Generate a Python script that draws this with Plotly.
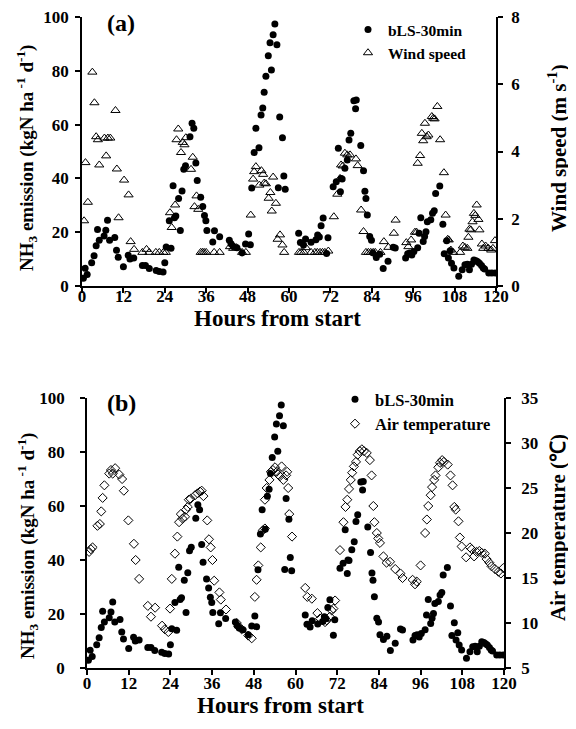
import plotly.graph_objects as go

# ---------------- data ----------------
emis_h = [0.4, 0.9, 1.5, 2.8, 3.5, 4.1, 4.5, 5.0, 6.4, 6.9, 7.4, 8.0, 9.5, 10.0, 10.5, 12.0, 13.4, 13.9, 15.0,
          17.5, 18.4, 19.5, 21.5, 22.4, 23.5, 24.0, 24.4, 25.3, 25.8, 26.4, 26.8, 27.2, 28.0, 28.5, 29.0, 29.5,
          30.0, 31.3, 31.9, 32.4, 33.0, 33.4, 34.4, 35.0, 35.5, 35.9, 36.2, 37.9, 38.4, 39.9, 42.7, 43.2, 43.8,
          44.9, 46.4, 47.4, 48.3, 48.8, 49.2, 49.9, 50.4, 51.3, 51.9, 52.4, 52.8, 53.3, 54.0, 54.5, 54.9, 55.4,
          55.9, 56.5, 56.9, 57.3, 58.1, 58.5, 58.9, 62.8, 63.3, 64.2, 64.8, 66.4, 67.8, 68.3, 68.8, 69.3, 69.9,
          70.9, 71.3, 72.8, 73.7, 74.3, 74.9, 75.1, 75.4, 76.2, 76.9, 77.4, 77.9, 78.8, 79.3, 79.5, 80.8, 81.6,
          82.0, 82.3, 82.7, 83.4, 83.9, 84.3, 85.3, 86.3, 87.3, 88.7, 90.2, 90.8, 93.8, 94.4, 95.0, 95.6, 96.2,
          97.3, 97.7, 98.2, 98.9, 99.3, 99.7, 100.1, 101.1, 101.6, 102.1, 102.5, 103.7, 104.6, 105.0, 105.7,
          106.2, 106.7, 107.1, 107.8, 109.2, 110.2, 111.0, 111.7, 112.3, 112.9, 113.6, 114.2, 114.7, 115.2,
          115.8, 116.3, 116.7, 117.9, 118.8, 119.8]
emis_v = [2.9, 6.6, 4.3, 8.6, 11.2, 15.0, 21.0, 17.0, 18.6, 20.7, 24.4, 17.0, 18.0, 13.3, 10.7, 7.2, 11.4, 10.0, 10.4,
          7.6, 7.6, 6.5, 5.8, 5.4, 5.2, 8.6, 14.5, 24.3, 14.0, 37.3, 25.4, 26.0, 32.5, 20.6, 35.3, 43.4,
          44.7, 55.5, 60.5, 58.6, 45.7, 39.2, 33.0, 29.6, 26.2, 24.3, 20.6, 16.4, 20.5, 18.3, 17.0, 15.7, 14.8,
          14.2, 12.3, 15.6, 19.3, 15.3, 36.4, 49.6, 58.6, 51.4, 63.6, 66.2, 72.0, 78.0, 85.6, 90.4, 80.3, 93.4,
          97.4, 89.7, 36.5, 62.8, 55.1, 40.9, 36.0, 19.6, 16.2, 15.2, 17.5, 16.3, 17.2, 19.0, 18.2, 22.4, 25.3,
          12.1, 17.9, 36.9, 38.8, 51.2, 35.0, 40.0, 39.8, 43.8, 46.8, 54.3, 56.8, 68.9, 65.9, 69.1, 52.2, 42.8,
          35.2, 32.5, 26.4, 18.4, 17.0, 12.3, 10.6, 11.8, 6.5, 9.2, 14.4, 14.1, 10.4, 12.0, 12.3, 11.5, 12.8,
          14.2, 19.6, 25.4, 16.5, 18.4, 20.2, 23.9, 24.6, 27.0, 28.0, 34.4, 37.2, 23.0, 12.0, 16.8,
          10.4, 13.1, 8.5, 6.7, 3.6, 6.0, 7.9, 8.1, 6.0, 8.1, 9.7, 9.4, 9.0, 8.5,
          7.6, 6.7, 6.3, 4.8, 4.8, 4.8]

wind_h = [0.6, 1.0, 1.7, 3.0, 3.6, 4.1, 4.6, 5.0, 6.5, 7.0, 7.5, 8.2, 9.7, 10.1, 10.6, 12.2, 13.5, 14.1, 15.1,
          17.5, 18.7, 19.5, 21.4, 22.4, 23.6, 24.3, 25.5, 26.0, 27.0, 27.4, 27.9, 28.7, 29.2, 29.7, 30.1, 31.6,
          32.1, 32.6, 33.2, 33.7, 34.4, 34.9, 35.4, 36.0, 38.3, 39.9, 42.9, 43.8, 44.8, 46.4, 47.5, 48.9, 49.6,
          49.9, 50.4, 51.4, 52.0, 52.5, 52.8, 53.3, 54.1, 54.6, 55.0, 55.4, 56.2, 56.7, 57.4, 58.1, 58.6, 62.9,
          63.5, 64.3, 64.9, 66.4, 67.5, 68.2, 69.0, 69.7, 70.4, 71.4, 73.0, 74.0, 74.8, 75.1, 75.6, 76.2, 76.9,
          77.7, 79.4, 79.9, 80.9, 81.6, 82.3, 83.0, 83.7, 84.4, 85.0, 86.5, 87.5, 88.8, 90.4, 90.9, 94.0, 94.6,
          95.4, 96.5, 97.0, 97.3, 98.0, 98.5, 98.9, 99.4, 99.9, 100.4, 101.4, 101.8, 102.2, 103.0, 103.8, 104.9,
          105.4, 106.0, 106.3, 106.9, 107.6, 109.6, 110.4, 111.0, 111.7, 112.0, 112.3, 112.7, 113.2, 113.6,
          114.0, 114.4, 114.9, 115.2, 115.9, 116.3, 117.0, 117.8, 118.6, 119.1, 119.7]
wind_v = [1.94, 3.67, 2.49, 6.36, 5.45, 4.44, 4.35, 3.60, 4.40, 3.87, 4.40, 4.40, 5.22, 3.48, 2.03, 3.15, 2.71, 1.32, 1.09,
          1.00, 1.09, 1.00, 1.00, 1.00, 1.00, 1.00, 2.18, 1.74, 2.41, 4.35, 4.67, 3.97, 4.27, 4.20, 4.41, 3.47,
          3.83, 2.36, 2.68, 2.28, 1.00, 1.00, 1.00, 1.00, 1.00, 1.00, 1.17, 1.12, 1.14, 1.00, 1.00, 2.11, 3.18,
          3.40, 3.55, 3.00, 3.43, 3.32, 3.06, 3.04, 2.61, 2.78, 2.23, 3.24, 2.46, 1.39, 1.52, 1.22, 1.00, 1.00,
          1.00, 1.00, 1.14, 1.00, 1.00, 1.00, 1.00, 1.00, 1.00, 1.04, 2.06, 2.73, 3.20, 3.60, 3.57, 3.95, 3.90,
          3.90, 3.78, 3.58, 2.26, 1.62, 1.00, 1.00, 1.00, 1.00, 1.00, 1.00, 1.32, 1.15, 1.57, 1.96, 1.29, 1.17,
          1.37, 1.60, 1.60, 3.65, 3.88, 4.54, 4.32, 4.84, 4.44, 4.49, 5.04, 4.99, 4.97, 5.34, 4.35, 3.37,
          2.11, 1.39, 1.37, 1.07, 1.00, 1.00, 1.19, 1.15, 1.12, 1.45, 1.69, 1.67, 1.91, 2.16,
          2.10, 2.41, 1.98, 1.67, 1.25, 1.12, 1.19, 1.12, 1.07, 1.12, 1.35]

temp_h = [0.6, 1.1, 1.6, 3.0, 3.7, 4.1, 4.5, 5.0, 6.4, 6.9, 7.4, 8.1, 9.3, 10.1, 10.6, 11.9, 13.5, 14.0, 15.0,
          17.5, 18.4, 19.6, 21.6, 22.4, 23.4, 23.9, 24.4, 25.3, 26.0, 26.5, 27.0, 27.5, 28.2, 28.5, 29.0, 29.3,
          29.8, 31.1, 31.8, 32.5, 33.0, 33.5, 34.6, 35.1, 35.6, 36.1, 36.6, 38.1, 38.5, 40.0, 43.1, 43.6, 44.5,
          46.4, 47.4, 48.3, 48.8, 49.3, 50.0, 50.6, 51.2, 51.2, 51.7, 52.5, 52.9, 53.5, 54.1, 54.6, 55.0, 55.5,
          56.0, 56.5, 57.3, 57.6, 57.9, 58.2, 59.0, 62.8, 63.4, 64.7, 66.3, 67.1, 68.5, 69.0, 69.9, 70.4, 70.9,
          71.4, 72.8, 73.8, 74.4, 74.9, 75.4, 75.9, 76.3, 76.8, 77.4, 77.9, 78.5, 79.1, 79.7, 80.5, 81.4, 81.9,
          82.4, 82.7, 83.4, 83.8, 84.3, 85.3, 86.2, 87.2, 88.7, 90.2, 90.8, 93.7, 94.4, 94.9, 96.0, 97.3, 97.8,
          98.2, 98.9, 99.3, 99.9, 100.3, 101.1, 101.6, 102.2, 102.7, 103.8, 104.6, 105.2, 105.7, 106.1, 106.9,
          107.3, 107.8, 109.1, 110.2, 110.7, 111.4, 112.1, 112.9, 113.6, 114.5, 115.0, 115.8, 116.4, 117.4,
          118.4, 119.1, 119.8]
temp_v = [17.9, 18.2, 18.4, 20.8, 21.0, 22.4, 23.9, 25.3, 26.6, 27.0, 26.6, 27.2, 26.5, 26.0, 24.7, 21.4, 18.8, 17.0, 14.9,
          11.9, 10.7, 11.7, 9.7, 9.3, 9.0, 11.6, 14.9, 17.7, 19.6, 21.2, 22.1, 21.6, 21.8, 22.6, 22.9, 23.7,
          23.8, 24.2, 24.4, 24.6, 24.7, 24.1, 21.4, 19.3, 18.4, 17.0, 14.7, 13.4, 12.6, 11.5, 10.0, 9.6, 9.3,
          8.6, 8.3, 12.9, 14.8, 16.4, 18.4, 20.3, 20.5, 23.7, 25.0, 25.9, 26.8, 27.0, 27.3, 26.8, 26.5, 26.3,
          27.4, 25.9, 26.4, 26.8, 25.0, 22.1, 19.6, 13.9, 12.9, 12.7, 11.1, 10.5, 10.1, 10.3, 10.7, 11.4, 11.6,
          12.5, 18.1, 21.2, 22.9, 23.7, 24.9, 25.9, 26.7, 27.4, 27.9, 28.7, 29.1, 29.3, 29.1, 28.9, 28.1, 26.4,
          23.0, 21.2, 20.0, 19.4, 18.9, 17.4, 16.7, 16.8, 16.0, 15.5, 15.0, 14.8, 14.3, 14.6, 16.4, 20.0, 21.5,
          23.0, 24.2, 25.1, 25.9, 26.4, 27.3, 27.8, 28.1, 27.9, 27.6, 26.4, 25.3, 22.9, 22.6, 21.3,
          19.5, 18.5, 17.3, 18.4, 18.2, 17.4, 17.9, 18.0, 17.8, 17.7, 17.1, 16.7, 16.3, 16.0,
          15.7, 15.5, 16.1]

x_ticks = [0, 12, 24, 36, 48, 60, 72, 84, 96, 108, 120]
emis_ticks = [0, 20, 40, 60, 80, 100]
wind_ticks = [0, 2, 4, 6, 8]
temp_ticks = [5, 10, 15, 20, 25, 30, 35]

# ---------------- figure ----------------
FONT = "Liberation Serif, Times New Roman, serif"
W, H = 576, 729
OFF = 8  # page body margin offset

def px_x(p):
    return (p - OFF) / W

def px_y(p):
    return 1 - (p - OFF) / H

fig = go.Figure()

dot = dict(symbol="circle", size=7, color="black")
tri = dict(symbol="triangle-up-open", size=8, color="black", line=dict(width=1, color="black"))
dia = dict(symbol="diamond-open", size=7, color="black", line=dict(width=1, color="black"))

fig.add_trace(go.Scatter(x=emis_h, y=emis_v, mode="markers", marker=dot, name="bLS-30min",
                         xaxis="x", yaxis="y", legend="legend"))
fig.add_trace(go.Scatter(x=wind_h, y=wind_v, mode="markers", marker=tri, name="Wind speed",
                         xaxis="x", yaxis="y2", legend="legend"))
fig.add_trace(go.Scatter(x=emis_h, y=emis_v, mode="markers", marker=dot, name="bLS-30min",
                         xaxis="x2", yaxis="y3", legend="legend2"))
fig.add_trace(go.Scatter(x=temp_h, y=temp_v, mode="markers", marker=dia, name="Air temperature",
                         xaxis="x2", yaxis="y4", legend="legend2"))

tickfont = dict(family=FONT, size=17, color="black", weight="bold")
xtitlefont = dict(family=FONT, size=23, color="black", weight="bold")
ytitlefont = dict(family=FONT, size=19, color="black", weight="bold")
rtitlefont = dict(family=FONT, size=21, color="black", weight="bold")

axis_common = dict(showline=True, linecolor="black", linewidth=1.5, ticks="outside", ticklen=5,
                   tickwidth=1.5, tickcolor="black", showgrid=False, zeroline=False, tickfont=tickfont,
                   automargin=False, ticklabeloverflow="allow")

xa_dom = [px_x(82), px_x(496)]
ya_dom = [px_y(286), px_y(17)]
xb_dom = [px_x(87), px_x(504)]
yb_dom = [px_y(668), px_y(398)]

ylab = "NH<sub>3</sub> emission (kgN ha<sup> -1</sup> d<sup>-1</sup>)"

fig.update_layout(
    width=W, height=H, margin=dict(l=0, r=0, t=0, b=0, autoexpand=False),
    paper_bgcolor="white", plot_bgcolor="white",
    font=dict(family=FONT, color="black"),
    xaxis=dict(domain=xa_dom, range=[0, 120], tickvals=x_ticks, anchor="y", ticklabelstandoff=-11,
               **axis_common),
    yaxis=dict(domain=ya_dom, range=[0, 100], tickvals=emis_ticks, anchor="x", ticklabelstandoff=3,
               **axis_common),
    yaxis2=dict(range=[0, 8], tickvals=wind_ticks, overlaying="y", side="right", anchor="x",
                ticklabelstandoff=5, **axis_common),
    xaxis2=dict(domain=xb_dom, range=[0, 120], tickvals=x_ticks, anchor="y3", ticklabelstandoff=-6,
                **axis_common),
    yaxis3=dict(domain=yb_dom, range=[0, 100], tickvals=emis_ticks, anchor="x2", ticklabelstandoff=12,
                **axis_common),
    yaxis4=dict(range=[5, 35], tickvals=temp_ticks, overlaying="y3", side="right", anchor="x2",
                ticklabelstandoff=7, **axis_common),
    legend=dict(x=px_x(348), y=px_y(13), xanchor="left", yanchor="top", bgcolor="rgba(0,0,0,0)",
                font=dict(family=FONT, size=15.5, color="black", weight="bold"), itemwidth=30,
                tracegroupgap=0),
    legend2=dict(x=px_x(335), y=px_y(382), xanchor="left", yanchor="top", bgcolor="rgba(0,0,0,0)",
                 font=dict(family=FONT, size=16.5, color="black", weight="bold"), itemwidth=30,
                 tracegroupgap=0),
    showlegend=True,
)

def note(text, x, y, font, angle=0):
    fig.add_annotation(text=text, x=px_x(x), y=px_y(y), xref="paper", yref="paper",
                       xanchor="center", yanchor="middle", showarrow=False, font=font,
                       textangle=angle)

note("Hours from start", 277, 318, xtitlefont)
note("Hours from start", 280, 705, xtitlefont)
note(ylab, 27, 158, ytitlefont, -90)
note(ylab, 27, 546, ytitlefont, -90)
note("Wind speed (m s<sup>-1</sup>)", 558, 148, rtitlefont, -90)
note("Air temperature (℃)", 558, 528, rtitlefont, -90)

fig.add_annotation(text="(a)", x=px_x(105), y=px_y(23), xref="paper", yref="paper",
                   xanchor="left", yanchor="middle", showarrow=False,
                   font=dict(family=FONT, size=24, color="black", weight="bold"))
fig.add_annotation(text="(b)", x=px_x(105), y=px_y(403), xref="paper", yref="paper",
                   xanchor="left", yanchor="middle", showarrow=False,
                   font=dict(family=FONT, size=24, color="black", weight="bold"))

fig.write_html("out.html")
